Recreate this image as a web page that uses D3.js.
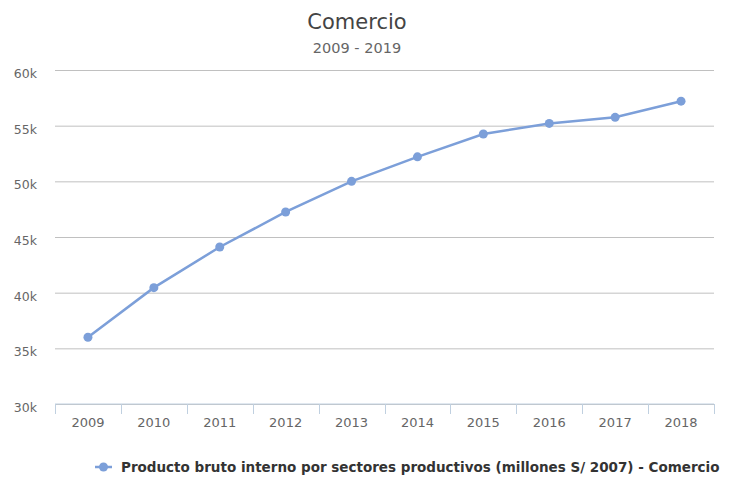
<!DOCTYPE html>
<html><head><meta charset="utf-8">
<script src="https://cdn.jsdelivr.net/npm/d3@7"></script>
<style>body{margin:0;background:#fff;overflow:hidden}svg{display:block}</style>
</head><body>
<script>
const categories = ["2009","2010","2011","2012","2013","2014","2015","2016","2017","2018"];
const values = [36000, 40450, 44100, 47250, 50000, 52200, 54250, 55200, 55750, 57200];
const yTicks = [30000, 35000, 40000, 45000, 50000, 55000, 60000];
const title = "Comercio";
const subtitle = "2009 - 2019";
const seriesName = "Producto bruto interno por sectores productivos (millones S/ 2007) - Comercio";

const W = 730, H = 478;
const font = "'DejaVu Sans', Verdana, sans-serif";
const color = "#7c9fd9";
const svg = d3.select("body").append("svg").attr("width", W).attr("height", H);
const m = {left: 55, right: 16, top: 70, bottom: 74};
const x = d3.scaleBand().domain(categories).range([m.left, W - m.right]);
const y = d3.scaleLinear().domain([30000, 60000]).range([H - m.bottom, m.top]);

svg.append("text").attr("x", 357).attr("y", 29).attr("text-anchor", "middle")
  .attr("font-family", font).attr("font-size", 21).attr("fill", "#444").text(title);
svg.append("text").attr("x", 357).attr("y", 53).attr("text-anchor", "middle")
  .attr("font-family", font).attr("font-size", 14.5).attr("fill", "#666").text(subtitle);

// grid
const yAxis = d3.axisLeft(y).tickValues(yTicks).tickSize(-(W - m.left - m.right))
  .tickFormat(d => (d / 1000) + "k").tickPadding(18);
const gy = svg.append("g").attr("transform", `translate(${m.left},0)`).call(yAxis);
gy.select(".domain").remove();
gy.selectAll(".tick line").attr("stroke", "#c0c0c0").attr("stroke-width", 1);
gy.selectAll(".tick text").attr("font-family", font).attr("font-size", 12.5).attr("fill", "#666").attr("dy", "0.6em");

// x axis
const xAxis = d3.axisBottom(x).tickSize(0).tickPadding(14);
const gx = svg.append("g").attr("transform", `translate(0,${H - m.bottom})`).call(xAxis);
gx.select(".domain").attr("stroke", "#c0d0e0").attr("d", `M${m.left},0H${W - m.right}`);
gx.selectAll(".tick text").attr("font-family", font).attr("font-size", 13).attr("fill", "#666");
const edges = categories.map(c => x(c)).concat([x(categories[categories.length - 1]) + x.bandwidth()]);
svg.append("g").selectAll("line").data(edges).join("line")
  .attr("x1", d => Math.round(d) + 0.5).attr("x2", d => Math.round(d) + 0.5)
  .attr("y1", H - m.bottom).attr("y2", H - m.bottom + 10)
  .attr("stroke", "#c0d0e0").attr("stroke-width", 1);

// line
const cx = (d, i) => x(categories[i]) + x.bandwidth() / 2;
svg.append("path").datum(values)
  .attr("d", d3.line().x(cx).y(d => y(d)))
  .attr("fill", "none").attr("stroke", color).attr("stroke-width", 2.5);
svg.append("g").selectAll("circle").data(values).join("circle")
  .attr("cx", cx).attr("cy", d => y(d)).attr("r", 4.5).attr("fill", color);

// legend
const lg = svg.append("g").attr("transform", "translate(95,467)");
lg.append("line").attr("x1", 0).attr("x2", 17).attr("y1", 0).attr("y2", 0)
  .attr("stroke", color).attr("stroke-width", 2.5);
lg.append("circle").attr("cx", 8.5).attr("cy", 0).attr("r", 4.5).attr("fill", color);
const lt = lg.append("text").attr("x", 26).attr("y", 5).attr("font-family", font)
  .attr("font-weight", "bold").attr("fill", "#333").text(seriesName);
let fs = 13.8;
lt.attr("font-size", fs);
const avail = W - 95 - 26 - 10;
while (lt.node().getComputedTextLength() > avail && fs > 9) { fs -= 0.1; lt.attr("font-size", fs); }
</script>
</body></html>
